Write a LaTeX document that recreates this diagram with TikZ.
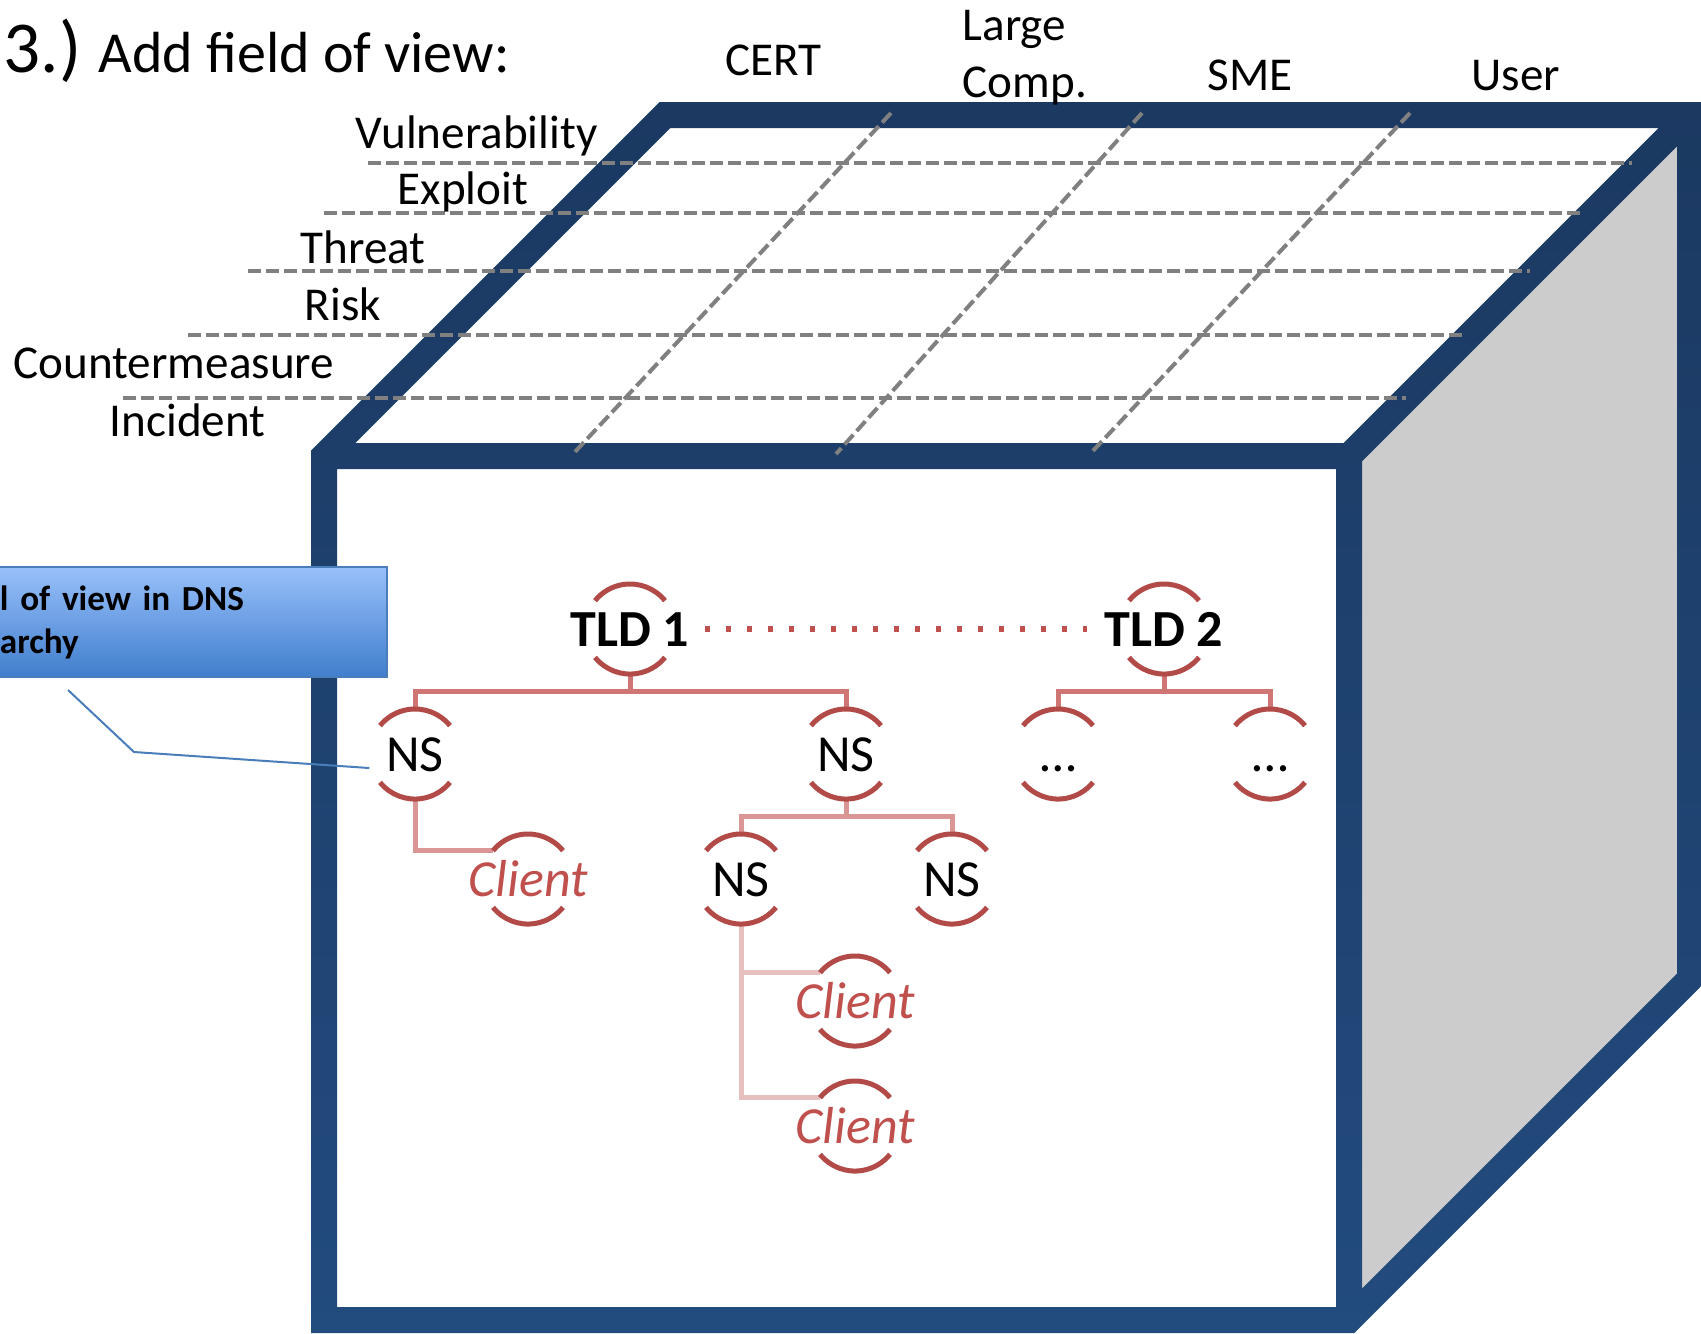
\documentclass[tikz,border=0pt]{standalone}
\usepackage{fontspec}
\setmainfont{Carlito}
\usepackage{tikz}

\definecolor{cubetop}{RGB}{27,57,97}
\definecolor{cubebot}{RGB}{34,75,126}
\definecolor{cubegray}{RGB}{204,204,204}
\definecolor{gridgray}{RGB}{128,128,128}
\definecolor{dnsred}{RGB}{192,80,77}
\definecolor{ringred}{RGB}{178,74,71}
\definecolor{treeA}{RGB}{207,117,115}
\definecolor{treeB}{RGB}{217,150,148}
\definecolor{treeC}{RGB}{230,192,191}
\definecolor{boxtop}{RGB}{152,192,250}
\definecolor{boxbot}{RGB}{64,126,205}
\definecolor{boxline}{RGB}{74,126,187}

\begin{document}
\begin{tikzpicture}[x=0.01cm, y=-0.01cm,
    cubeframe/.style={even odd rule, top color=cubetop, bottom color=cubebot},
    griddash/.style={draw=gridgray, line width=0.04cm, dash pattern=on 0.13cm off 0.05cm},
    rowlabel/.style={anchor=base west, inner sep=0pt, font=\fontsize{13.4}{16.2}\selectfont},
    dns/.style={rectangle, minimum width=0.9cm, minimum height=0.9cm, inner sep=0pt,
      text height=0.34cm, text depth=0pt, font=\fontsize{14.8}{18}\selectfont},
    tld/.style={dns, font=\fontsize{14.8}{18}\selectfont\bfseries},
    client/.style={dns, text=dnsred, font=\fontsize{14.8}{18}\selectfont\itshape},
    ring/.style={draw=ringred, line width=0.05cm},
    link1/.style={draw=treeA, line width=0.05cm},
    link2/.style={draw=treeB, line width=0.05cm},
    link3/.style={draw=treeC, line width=0.05cm},
    tldlink/.style={draw=dnsred, line width=0.06cm, dash pattern=on 0.05cm off 0.16cm},
    fovbox/.style={draw=boxline, line width=0.02cm, top color=boxtop, bottom color=boxbot,
      minimum width=4.18cm, minimum height=1.1cm, text width=3.56cm, inner xsep=0.31cm,
      align=left, font=\fontsize{10}{12.2}\selectfont\bfseries},
    pointer/.style={draw=boxline, line width=0.02cm}]

  \useasboundingbox (0,0) rectangle (1701,1333);
  \clip (0,0) rectangle (1701,1333);

  \fill[white] (324,456) rectangle (1349,1320);
  \fill[white] (324,456) -- (665,115) -- (1690,115) -- (1349,456) -- cycle;
  \fill[cubegray] (1349,456) -- (1690,115) -- (1690,979) -- (1349,1320) -- cycle;
  \shade[cubeframe]
    (311,1333) -- (311,450.6) -- (659.6,102) -- (1703,102) -- (1703,984.4) -- (1354.4,1333) -- cycle
    (337,469) rectangle (1336,1307)
    (355.4,443) -- (670.4,128) -- (1658.6,128) -- (1343.6,443) -- cycle
    (1362,461.4) -- (1677,146.4) -- (1677,973.6) -- (1362,1288.6) -- cycle;

  \foreach \y/\xa/\xb in {163/368/1632, 213/324/1582, 271/248/1530, 335/188/1465, 398/123/1406}
    \draw[griddash] (\xa,\y) -- (\xb,\y);
  \foreach \xa/\xb in {891/573, 1142/836, 1410/1090}
    \draw[griddash] (\xa,113) -- (\xb,454);

  \foreach \x/\y/\t [count=\i] in {355/148/Vulnerability, 397/204/Exploit, 300/263/Threat,
      304/320/Risk, 13/378/Countermeasure, 109/436/Incident}
    \node[rowlabel] (row\i) at (\x,\y) {\t};

  \node[rowlabel] (cert) at (725,75) {CERT};
  \node[rowlabel, align=left] (large) at (962,97) {Large\\Comp.};
  \node[rowlabel] (sme) at (1207,90) {SME};
  \node[rowlabel] (user) at (1471,90) {User};

  \node[anchor=base west, inner sep=0pt, font=\fontsize{16.5}{20}\selectfont] (title) at (3,72)
    {{\fontsize{20.8}{25}\selectfont 3.)} Add field of view:};

  \node[tld] (tld1) at (630,629) {TLD 1};
  \node[tld] (tld2) at (1164,629) {TLD 2};
  \node[dns] (ns1) at (415,754) {NS};
  \node[dns] (ns2) at (846,754) {NS};
  \node[dns] (dots1) at (1058,754) {…};
  \node[dns] (dots2) at (1270,754) {…};
  \node[client] (c1) at (528,879) {Client};
  \node[dns] (ns3) at (741,879) {NS};
  \node[dns] (ns4) at (952,879) {NS};
  \node[client] (c2) at (855,1001) {Client};
  \node[client] (c3) at (855,1126) {Client};

  \draw[link1] (tld1.south) -- ++(0,17) -| (ns1.north);
  \draw[link1] (tld1.south) -- ++(0,17) -| (ns2.north);
  \draw[link1] (tld2.south) -- ++(0,17) -| (dots1.north);
  \draw[link1] (tld2.south) -- ++(0,17) -| (dots2.north);
  \draw[link2] (ns2.south) -- ++(0,17) -| (ns3.north);
  \draw[link2] (ns2.south) -- ++(0,17) -| (ns4.north);
  \draw[link2] (ns1.south) |- ([shift={(141:0.45cm)}]c1.center);
  \draw[link3] (ns3.south) |- ([shift={(141:0.45cm)}]c2.center);
  \draw[link3] (ns3.south) |- ([shift={(141:0.45cm)}]c3.center);

  \foreach \n in {tld1,tld2,ns1,ns2,dots1,dots2,c1,ns3,ns4,c2,c3} {
    \draw[ring] ([shift={(39:0.45cm)}]\n.center) arc[start angle=39, end angle=141, radius=0.45cm];
    \draw[ring] ([shift={(219:0.45cm)}]\n.center) arc[start angle=219, end angle=321, radius=0.45cm];
  }

  \draw[tldlink] ([xshift=0.15cm]tld1.east) -- ([xshift=-0.17cm]tld2.west);

  \node[fovbox] (fov) at (178,622) {l of view in DNS\\archy};
  \coordinate (fovtip) at (68,690);
  \draw[pointer] (fovtip) -- (134,752) -- ([yshift=-0.14cm]ns1.west);

\end{tikzpicture}
\end{document}
